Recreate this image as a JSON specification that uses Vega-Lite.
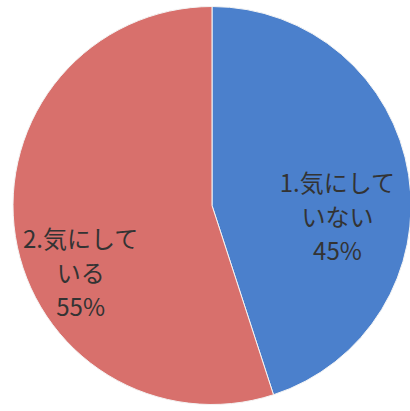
{
  "$schema": "https://vega.github.io/schema/vega-lite/v6.json",
  "width": 410,
  "height": 411,
  "autosize": {"type": "fit", "contains": "padding"},
  "padding": {"left": 14, "top": 0, "right": 0, "bottom": 0},
  "background": "white",
  "view": {"stroke": null},
  "data": {
    "values": [
      {"category": "1.気にしていない", "label": "1.気にして\nいない\n45%", "value": 45},
      {"category": "2.気にしている", "label": "2.気にして\nいる\n55%", "value": 55}
    ]
  },
  "encoding": {
    "theta": {"field": "value", "type": "quantitative", "stack": true},
    "color": {
      "field": "category",
      "type": "nominal",
      "scale": {"domain": ["1.気にしていない", "2.気にしている"], "range": ["#4b80cc", "#d8706c"]},
      "legend": null
    }
  },
  "layer": [
    {"mark": {"type": "arc", "outerRadius": 199, "stroke": "#f4f4f4", "strokeWidth": 1}},
    {
      "mark": {"type": "text", "radius": 127, "dy": -1, "lineBreak": "\n", "lineHeight": 34, "font": "Noto Sans CJK JP", "fontSize": 24, "fill": "#333333", "align": "center", "baseline": "middle"},
      "encoding": {
        "text": {"field": "label"},
        "color": {"value": "#333333"},
        "opacity": {"condition": {"test": "datum.value == 45", "value": 1}, "value": 0}
      }
    },
    {
      "mark": {"type": "text", "radius": 133, "dy": 15, "lineBreak": "\n", "lineHeight": 34, "font": "Noto Sans CJK JP", "fontSize": 24, "fill": "#333333", "align": "center", "baseline": "middle"},
      "encoding": {
        "text": {"field": "label"},
        "color": {"value": "#333333"},
        "opacity": {"condition": {"test": "datum.value == 55", "value": 1}, "value": 0}
      }
    }
  ]
}
